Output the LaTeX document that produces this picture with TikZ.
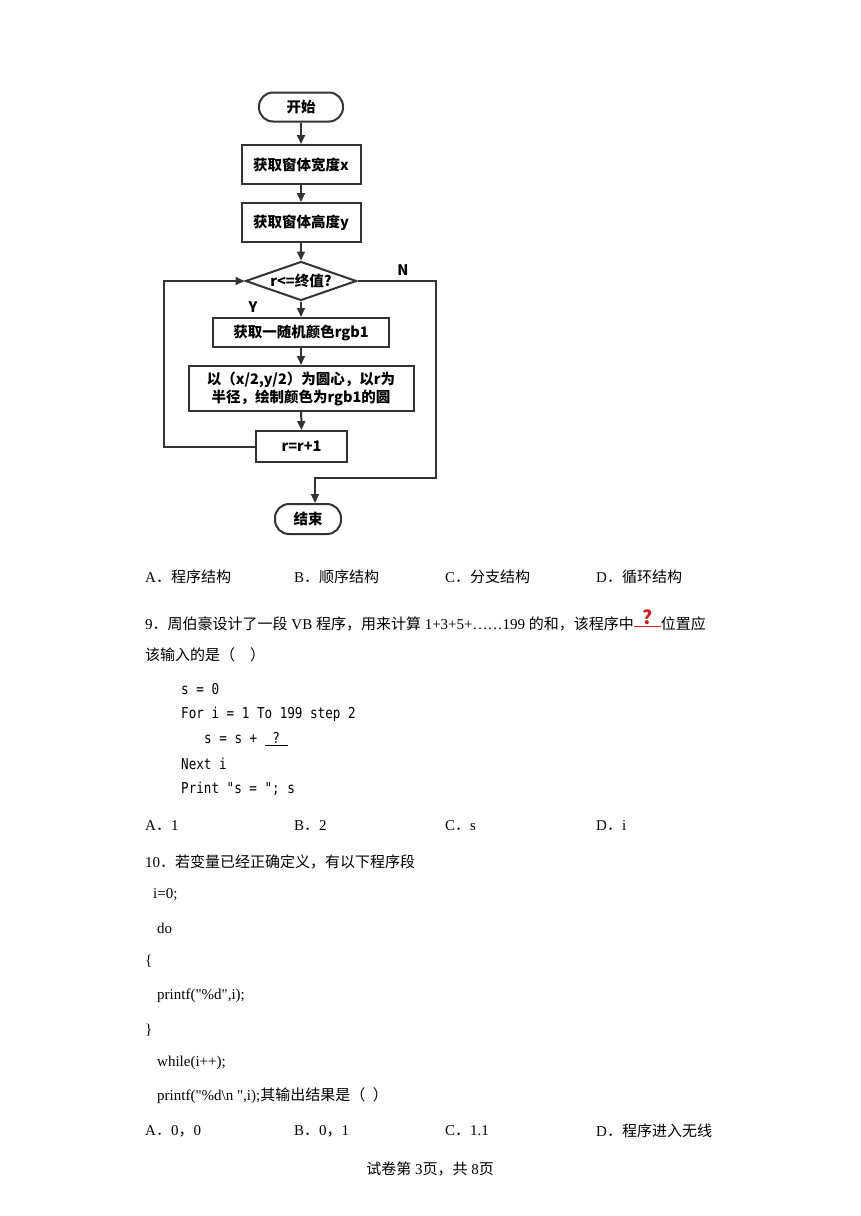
\documentclass[tikz,border=0pt]{standalone}
\usepackage{fontspec}
\usetikzlibrary{arrows.meta,shapes.geometric}
\setmainfont{Liberation Serif}[Ligatures=TeXOff]
\newfontfamily\cjk{Noto Sans CJK SC}
\newfontfamily\codefont{DejaVu Sans Mono}[FakeStretch=0.84]
\newcommand\zh[1]{{\cjk #1}}
\definecolor{fcline}{HTML}{333333}
\definecolor{qred}{HTML}{D42020}

\tikzset{
	fcnode/.style={draw=fcline, line width=2pt, inner sep=0pt, font=\cjk\bfseries\fontsize{14.5}{18}\selectfont, align=center},
	term/.style={fcnode, rounded corners=14pt},
	proc/.style={fcnode},
	decide/.style={fcnode, shape=diamond, aspect=2.85},
	arr/.style={draw=fcline, line width=2pt, -{Triangle[length=9pt,width=8pt]}},
	yn/.style={inner sep=0pt, font=\cjk\bfseries\fontsize{14.5}{17}\selectfont},
	txt/.style={anchor=west, inner sep=0pt, font=\fontsize{15}{18}\selectfont},
	code/.style={anchor=west, inner sep=0pt, font=\codefont\fontsize{15}{17}\selectfont},
}

\begin{document}
\begin{tikzpicture}[x=1pt,y=-1pt]
	\fill[white] (0,0) rectangle (860,1216);
	\useasboundingbox (0,0) rectangle (860,1216);
	
	% flow chart
	\node[term, minimum width=84pt, minimum height=29pt] (start) at (301,107) {开始};
	\node[proc, minimum width=119pt, minimum height=39pt] (getx) at (301,164.5) {获取窗体宽度x};
	\node[proc, minimum width=119pt, minimum height=39pt] (gety) at (301,222.5) {获取窗体高度y};
	\node[decide, minimum width=111pt, minimum height=39pt] (cond) at (301,281) {r<=终值?};
	\node[proc, minimum width=176pt, minimum height=29pt] (color) at (301,332.5) {获取一随机颜色rgb1};
	\node[proc, minimum width=225pt, minimum height=45pt] (circle) at (301,388.5) {以（x/2,y/2）为圆心，以r为\\半径，绘制颜色为rgb1的圆};
	\node[proc, minimum width=91pt, minimum height=31pt] (incr) at (301.5,446.5) {r=r+1};
	\node[term, minimum width=66pt, minimum height=30pt] (stop) at (308,519) {结束};
	\node[yn] (ylab) at (253,307) {Y};
	\node[yn] (nlab) at (403,270) {N};
	
	\coordinate (back) at (164,446.5);
	\coordinate (nright) at (436,281);
	\coordinate (nbottom) at (315,478);
	
	\draw[arr] (start) -- (getx);
	\draw[arr] (getx) -- (gety);
	\draw[arr] (gety) -- (cond);
	\draw[arr] (cond) -- (color);
	\draw[arr] (color) -- (circle);
	\draw[arr] (circle) -- (incr);
	\draw[arr] (incr.west) -- (back) |- (cond.west);
	\draw[arr] (cond.east) -- (nright) |- (nbottom) -- (nbottom |- stop.north);
	
	% question text
	\node[txt] (q8a) at (145,577) {A\zh{．程序结构}};
	\node[txt] (q8b) at (294,577) {B\zh{．顺序结构}};
	\node[txt] (q8c) at (445,577) {C\zh{．分支结构}};
	\node[txt] (q8d) at (596,577) {D\zh{．循环结构}};
	
	\node[txt] (q9) at (145,620) {9\zh{．周伯豪设计了一段} VB \zh{程序，用来计算} 1+3+5+……199 \zh{的和，该程序中}{\color{qred}\rlap{\rule[2pt]{27pt}{1.6pt}}\hbox to 27pt{\hss\raisebox{5pt}{\cjk\bfseries\fontsize{19}{19}\selectfont ?}\hss}}\zh{位置应}};
	\node[txt] (q9b) at (145,655) {\zh{该输入的是（\quad）}};
	
	\node[code] (c1) at (181,689) {s = 0};
	\node[code] (c2) at (181,714) {For i = 1 To 199 step 2};
	\node[code] (c3) at (204,739) {s = s + $\underline{\hbox{\codefont\fontsize{15}{17}\selectfont\ ?\ }}$};
	\node[code] (c4) at (181,764) {Next i};
	\node[code] (c5) at (181,789) {Print "s = "; s};
	
	\node[txt] (q9a) at (145,826) {A\zh{．}1};
	\node[txt] (q9bb) at (294,826) {B\zh{．}2};
	\node[txt] (q9c) at (445,826) {C\zh{．}s};
	\node[txt] (q9d) at (596,826) {D\zh{．}i};
	
	\node[txt] (q10) at (145,862) {10\zh{．若变量已经正确定义，有以下程序段}};
	\node[txt] (p1) at (153,895) {i=0;};
	\node[txt] (p2) at (157,928) {do};
	\node[txt] (p3) at (145,961) {\{};
	\node[txt] (p4) at (157,996) {printf("\%d",i);};
	\node[txt] (p5) at (145,1030) {\}};
	\node[txt] (p6) at (157,1063) {while(i++);};
	\node[txt] (p7) at (157,1096) {printf("\%d\textbackslash n ",i);\zh{其输出结果是（\enspace）}};
	
	\node[txt] (q10a) at (145,1131) {A\zh{．}0\zh{，}0};
	\node[txt] (q10b) at (294,1131) {B\zh{．}0\zh{，}1};
	\node[txt] (q10c) at (445,1131) {C\zh{．}1.1};
	\node[txt] (q10d) at (596,1131) {D\zh{．程序进入无线}};
	
	\node[txt, anchor=center] (foot) at (430,1169) {\zh{试卷第} 3\zh{页，共} 8\zh{页}};
\end{tikzpicture}
\end{document}
